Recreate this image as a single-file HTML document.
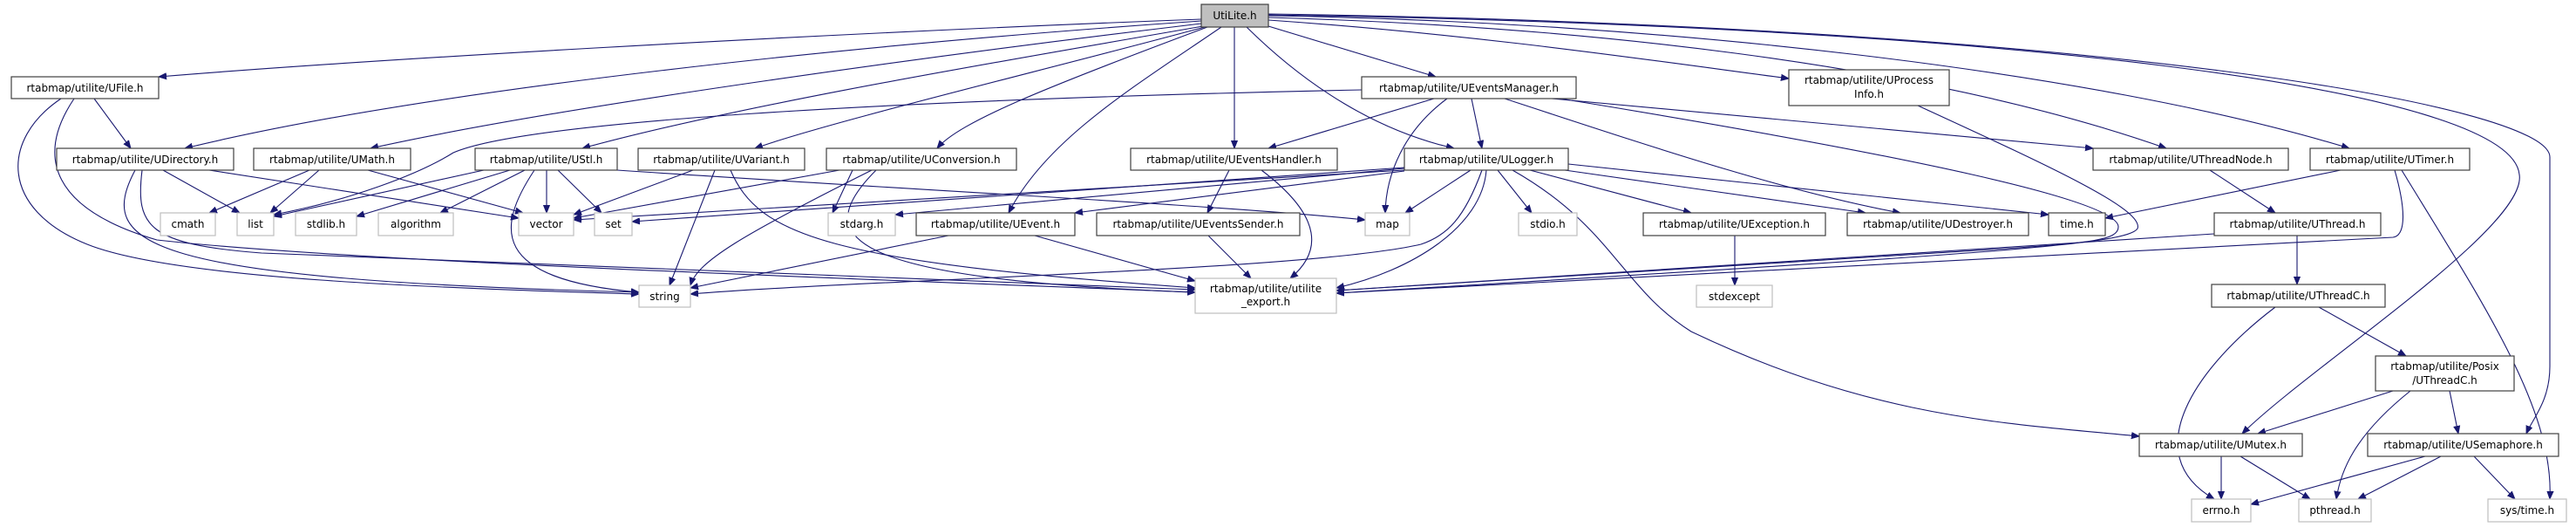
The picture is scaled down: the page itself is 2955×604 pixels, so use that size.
<!DOCTYPE html>
<html><head><meta charset="utf-8"><style>
html,body{margin:0;padding:0;background:#fff;}
svg{display:block;}
text{font-family:"DejaVu Sans","Liberation Sans",sans-serif;font-size:12px;fill:#000;}
.n{fill:#fff;stroke:#404040;stroke-width:1.2;}
.x{fill:#fff;stroke:#bfbfbf;stroke-width:1.2;}
.e{fill:none;stroke:#191970;stroke-width:1.1;marker-end:url(#a);}
</style></head><body>
<svg width="2955" height="604" viewBox="0 0 2955 604" xmlns="http://www.w3.org/2000/svg">
<defs><marker id="a" viewBox="0 0 10 10" refX="10" refY="5" markerWidth="9" markerHeight="9" markerUnits="userSpaceOnUse" orient="auto"><path d="M0,1 L10,5 L0,9 z" fill="#191970" stroke="#191970"/></marker></defs>
<g>
<path class="e" d="M1378,22 C900,40 400,70 182,88"/>
<path class="e" d="M1378,24 C1000,50 500,100 212,170"/>
<path class="e" d="M1378,27 C1100,60 650,120 425,170"/>
<path class="e" d="M1380,30 C1150,70 850,120 668,170"/>
<path class="e" d="M1382,31 C1200,80 950,140 866,170"/>
<path class="e" d="M1385,31 C1200,100 1100,140 1075,170"/>
<path class="e" d="M1401,31 C1300,100 1200,160 1157,244"/>
<path class="e" d="M1416,31 L1416,170"/>
<path class="e" d="M1455,30 L1647,88"/>
<path class="e" d="M1430,31 C1500,100 1580,150 1668,170"/>
<path class="e" d="M1455,23 C1700,40 1900,70 2052,90"/>
<path class="e" d="M1455,20 C1800,30 2200,70 2485,170"/>
<path class="e" d="M1455,18 C1900,25 2400,80 2695,170"/>
<path class="e" d="M1455,17 C2300,30 2880,100 2890,200 C2900,260 2650,420 2572,497"/>
<path class="e" d="M1455,16 C2400,30 2925,120 2925,180 L2925,420 C2925,460 2905,480 2898,497"/>
<path class="e" d="M108,113 L150,170"/>
<path class="e" d="M70,113 C0,160 0,240 100,280 C200,320 500,330 733,337"/>
<path class="e" d="M85,113 C40,180 60,240 180,275 C400,300 1000,320 1371,335"/>
<path class="e" d="M187,195 L275,244"/>
<path class="e" d="M240,195 L595,250"/>
<path class="e" d="M155,195 C110,280 160,320 733,335"/>
<path class="e" d="M163,195 C155,260 170,280 300,290 L1371,332"/>
<path class="e" d="M355,195 L240,244"/>
<path class="e" d="M366,195 L310,244"/>
<path class="e" d="M422,195 L600,244"/>
<path class="e" d="M555,195 L314,248"/>
<path class="e" d="M585,195 L409,248"/>
<path class="e" d="M602,195 L505,244"/>
<path class="e" d="M627,195 L627,244"/>
<path class="e" d="M640,195 L690,244"/>
<path class="e" d="M613,195 C570,260 560,320 733,335"/>
<path class="e" d="M708,195 C1000,215 1400,235 1566,252"/>
<path class="e" d="M795,195 L658,246"/>
<path class="e" d="M820,195 L768,327"/>
<path class="e" d="M838,195 C870,270 950,300 1371,330"/>
<path class="e" d="M963,195 L658,250"/>
<path class="e" d="M978,195 L955,244"/>
<path class="e" d="M1000,195 C850,270 800,300 792,327"/>
<path class="e" d="M1005,195 C930,270 960,320 1371,335"/>
<path class="e" d="M1562,103 C1000,115 600,140 520,175 C480,200 400,230 314,246"/>
<path class="e" d="M1645,113 L1455,170"/>
<path class="e" d="M1660,113 C1610,150 1590,200 1589,244"/>
<path class="e" d="M1688,113 L1700,170"/>
<path class="e" d="M1726,113 C1900,170 2050,220 2180,244"/>
<path class="e" d="M1780,113 L2401,170"/>
<path class="e" d="M1790,113 C2200,180 2430,230 2430,260 C2430,275 2400,278 2300,285 L1533,333"/>
<path class="e" d="M2200,121 C2350,190 2460,240 2452,262 C2440,280 2300,290 1533,336"/>
<path class="e" d="M1410,195 L1385,244"/>
<path class="e" d="M1447,195 C1520,250 1515,290 1480,319"/>
<path class="e" d="M1611,192 L725,254"/>
<path class="e" d="M1611,195 L658,252"/>
<path class="e" d="M1611,193 L1027,246"/>
<path class="e" d="M1611,196 L1233,244"/>
<path class="e" d="M1687,195 L1612,244"/>
<path class="e" d="M1718,195 L1757,244"/>
<path class="e" d="M1755,195 L1940,244"/>
<path class="e" d="M1795,195 L2140,244"/>
<path class="e" d="M1799,188 L2350,246"/>
<path class="e" d="M1700,195 C1680,250 1660,270 1630,280 C1500,310 1000,320 792,337"/>
<path class="e" d="M1705,195 C1700,260 1620,310 1533,330"/>
<path class="e" d="M1735,195 C1850,260 1860,330 1940,380 C2150,480 2300,485 2454,500"/>
<path class="e" d="M1088,270 L792,330"/>
<path class="e" d="M1187,270 L1371,322"/>
<path class="e" d="M1386,270 L1435,319"/>
<path class="e" d="M1990,270 L1990,327"/>
<path class="e" d="M2535,195 L2610,244"/>
<path class="e" d="M2685,195 L2415,250"/>
<path class="e" d="M2747,195 C2760,240 2760,270 2745,272 L1533,336"/>
<path class="e" d="M2755,195 C2850,350 2930,470 2925,572"/>
<path class="e" d="M2635,270 L2635,326"/>
<path class="e" d="M2540,268 L1533,333"/>
<path class="e" d="M2610,352 C2520,420 2450,520 2540,572"/>
<path class="e" d="M2660,352 L2760,408"/>
<path class="e" d="M2745,448 L2590,497"/>
<path class="e" d="M2765,448 C2700,500 2685,540 2680,572"/>
<path class="e" d="M2810,448 L2820,497"/>
<path class="e" d="M2548,523 L2548,572"/>
<path class="e" d="M2570,523 L2650,572"/>
<path class="e" d="M2782,523 L2582,578"/>
<path class="e" d="M2800,523 L2705,572"/>
<path class="e" d="M2838,523 L2885,572"/>
</g>
<g>
<rect x="1378" y="5" width="77" height="26" fill="#bfbfbf" stroke="#404040" stroke-width="1.2"/><text x="1416.5" y="22" text-anchor="middle">UtiLite.h</text>
<rect class="n" x="13" y="88" width="169" height="25"/><text x="97.5" y="105" text-anchor="middle">rtabmap/utilite/UFile.h</text>
<rect class="n" x="65" y="170" width="203" height="25"/><text x="166.5" y="187" text-anchor="middle">rtabmap/utilite/UDirectory.h</text>
<rect class="n" x="291" y="170" width="180" height="25"/><text x="381" y="187" text-anchor="middle">rtabmap/utilite/UMath.h</text>
<rect class="n" x="545" y="170" width="163" height="25"/><text x="626.5" y="187" text-anchor="middle">rtabmap/utilite/UStl.h</text>
<rect class="n" x="732" y="170" width="191" height="25"/><text x="827.5" y="187" text-anchor="middle">rtabmap/utilite/UVariant.h</text>
<rect class="n" x="948" y="170" width="218" height="25"/><text x="1057" y="187" text-anchor="middle">rtabmap/utilite/UConversion.h</text>
<rect class="n" x="1297" y="170" width="237" height="25"/><text x="1415.5" y="187" text-anchor="middle">rtabmap/utilite/UEventsHandler.h</text>
<rect class="n" x="1611" y="170" width="188" height="25"/><text x="1705" y="187" text-anchor="middle">rtabmap/utilite/ULogger.h</text>
<rect class="n" x="1562" y="88" width="246" height="25"/><text x="1685" y="105" text-anchor="middle">rtabmap/utilite/UEventsManager.h</text>
<rect class="n" x="2052" y="80" width="184" height="41"/><text x="2144" y="96" text-anchor="middle">rtabmap/utilite/UProcess</text><text x="2144" y="112" text-anchor="middle">Info.h</text>
<rect class="n" x="2401" y="170" width="224" height="25"/><text x="2513" y="187" text-anchor="middle">rtabmap/utilite/UThreadNode.h</text>
<rect class="n" x="2650" y="170" width="183" height="25"/><text x="2741.5" y="187" text-anchor="middle">rtabmap/utilite/UTimer.h</text>
<rect class="x" x="184" y="244" width="63" height="26"/><text x="215.5" y="261" text-anchor="middle">cmath</text>
<rect class="x" x="272" y="244" width="42" height="26"/><text x="293" y="261" text-anchor="middle">list</text>
<rect class="x" x="339" y="244" width="70" height="26"/><text x="374" y="261" text-anchor="middle">stdlib.h</text>
<rect class="x" x="434" y="244" width="86" height="26"/><text x="477" y="261" text-anchor="middle">algorithm</text>
<rect class="x" x="595" y="244" width="63" height="26"/><text x="626.5" y="261" text-anchor="middle">vector</text>
<rect class="x" x="682" y="244" width="43" height="26"/><text x="703.5" y="261" text-anchor="middle">set</text>
<rect class="x" x="950" y="244" width="77" height="26"/><text x="988.5" y="261" text-anchor="middle">stdarg.h</text>
<rect class="n" x="1051" y="244" width="182" height="26"/><text x="1142" y="261" text-anchor="middle">rtabmap/utilite/UEvent.h</text>
<rect class="n" x="1258" y="244" width="233" height="26"/><text x="1374.5" y="261" text-anchor="middle">rtabmap/utilite/UEventsSender.h</text>
<rect class="x" x="1566" y="244" width="51" height="26"/><text x="1591.5" y="261" text-anchor="middle">map</text>
<rect class="x" x="1742" y="244" width="67" height="26"/><text x="1775.5" y="261" text-anchor="middle">stdio.h</text>
<rect class="n" x="1885" y="244" width="209" height="26"/><text x="1989.5" y="261" text-anchor="middle">rtabmap/utilite/UException.h</text>
<rect class="n" x="2119" y="244" width="208" height="26"/><text x="2223" y="261" text-anchor="middle">rtabmap/utilite/UDestroyer.h</text>
<rect class="n" x="2350" y="244" width="65" height="26"/><text x="2382.5" y="261" text-anchor="middle">time.h</text>
<rect class="n" x="2540" y="244" width="191" height="26"/><text x="2635.5" y="261" text-anchor="middle">rtabmap/utilite/UThread.h</text>
<rect class="x" x="733" y="327" width="59" height="25"/><text x="762.5" y="344" text-anchor="middle">string</text>
<rect class="x" x="1371" y="319" width="162" height="40"/><text x="1452" y="335" text-anchor="middle">rtabmap/utilite/utilite</text><text x="1452" y="350" text-anchor="middle">_export.h</text>
<rect class="x" x="1946" y="327" width="87" height="25"/><text x="1989.5" y="344" text-anchor="middle">stdexcept</text>
<rect class="n" x="2537" y="326" width="199" height="26"/><text x="2636.5" y="343" text-anchor="middle">rtabmap/utilite/UThreadC.h</text>
<rect class="n" x="2725" y="408" width="159" height="40"/><text x="2804.5" y="424" text-anchor="middle">rtabmap/utilite/Posix</text><text x="2804.5" y="440" text-anchor="middle">/UThreadC.h</text>
<rect class="n" x="2454" y="497" width="187" height="26"/><text x="2547.5" y="514" text-anchor="middle">rtabmap/utilite/UMutex.h</text>
<rect class="n" x="2716" y="497" width="219" height="26"/><text x="2825.5" y="514" text-anchor="middle">rtabmap/utilite/USemaphore.h</text>
<rect class="x" x="2514" y="572" width="68" height="26"/><text x="2548" y="589" text-anchor="middle">errno.h</text>
<rect class="x" x="2637" y="572" width="83" height="26"/><text x="2678.5" y="589" text-anchor="middle">pthread.h</text>
<rect class="x" x="2854" y="572" width="90" height="26"/><text x="2899" y="589" text-anchor="middle">sys/time.h</text>
</g>
</svg>
</body></html>
